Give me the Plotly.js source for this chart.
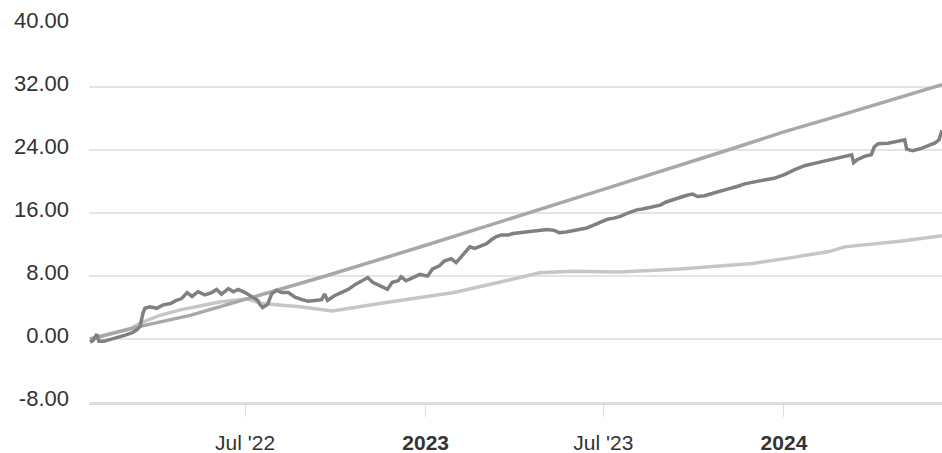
<!DOCTYPE html>
<html>
<head>
<meta charset="utf-8">
<script src="https://cdn.plot.ly/plotly-3.0.1.min.js"></script>
<style>
  html, body { margin: 0; padding: 0; background: #fff; }
  #chart { width: 942px; height: 453px; }
</style>
</head>
<body>
<div id="chart"></div>
<script>
// ---- Data ----
const darkDates = [
  '2022-01-24','2022-01-27','2022-01-31','2022-02-02','2022-02-07','2022-02-14','2022-02-21','2022-03-01','2022-03-08','2022-03-13',
  '2022-03-16','2022-03-19','2022-03-21','2022-03-26','2022-04-02','2022-04-08','2022-04-16','2022-04-22','2022-04-27','2022-05-03',
  '2022-05-08','2022-05-14','2022-05-21','2022-05-28','2022-06-02','2022-06-07','2022-06-14','2022-06-19','2022-06-24','2022-07-01',
  '2022-07-08','2022-07-14','2022-07-16','2022-07-19','2022-07-24','2022-07-28','2022-08-02','2022-08-07','2022-08-14','2022-08-21',
  '2022-08-28','2022-09-03','2022-09-10','2022-09-17','2022-09-20','2022-09-23','2022-09-30','2022-10-07','2022-10-14','2022-10-21',
  '2022-10-28','2022-11-03','2022-11-08','2022-11-13','2022-11-18','2022-11-23','2022-11-28','2022-12-04','2022-12-07','2022-12-12',
  '2022-12-19','2022-12-26','2022-12-30','2023-01-03','2023-01-08','2023-01-15','2023-01-20','2023-01-27','2023-02-01','2023-02-06',
  '2023-02-11','2023-02-15','2023-02-20','2023-02-27','2023-03-04','2023-03-09','2023-03-14','2023-03-19','2023-03-26','2023-03-31',
  '2023-04-07','2023-04-15','2023-04-25','2023-05-05','2023-05-12','2023-05-17','2023-05-24','2023-05-31','2023-06-07','2023-06-14',
  '2023-06-20','2023-06-29','2023-07-05','2023-07-12','2023-07-19','2023-07-26','2023-07-31','2023-08-04','2023-08-10','2023-08-19',
  '2023-08-28','2023-09-03','2023-09-10','2023-09-17','2023-09-24','2023-09-30','2023-10-05','2023-10-12','2023-10-19','2023-10-26',
  '2023-11-01','2023-11-08','2023-11-15','2023-11-22','2023-11-29','2023-12-05','2023-12-12','2023-12-22','2024-01-02','2024-01-12',
  '2024-01-22','2024-02-01','2024-02-11','2024-02-21','2024-03-03','2024-03-10','2024-03-12','2024-03-16','2024-03-23','2024-03-30',
  '2024-04-02','2024-04-06','2024-04-16','2024-04-26','2024-05-03','2024-05-05','2024-05-08','2024-05-11','2024-05-20','2024-05-27',
  '2024-06-03','2024-06-07','2024-06-10'
];
const darkValues = [
  -0.4,-0.2,0.6,-0.3,-0.3,0.0,0.2,0.5,0.8,1.2,
  1.6,3.3,3.9,4.1,3.9,4.3,4.5,4.9,5.1,5.9,
  5.4,6.0,5.6,5.9,6.3,5.7,6.4,6.0,6.3,5.9,
  5.4,4.9,4.4,4.0,4.4,5.7,6.2,5.9,5.9,5.3,
  5.0,4.8,4.9,5.0,5.7,4.9,5.5,5.9,6.3,6.9,
  7.4,7.8,7.2,6.9,6.7,6.3,7.2,7.4,7.9,7.4,
  7.8,8.2,8.1,8.0,8.9,9.3,9.9,10.2,9.7,10.4,
  11.0,11.7,11.5,11.9,12.1,12.6,13.0,13.2,13.2,13.4,
  13.5,13.6,13.8,13.9,13.8,13.5,13.6,13.8,13.9,14.1,
  14.4,14.9,15.2,15.35,15.6,16.0,16.2,16.4,16.5,16.8,
  17.0,17.4,17.7,18.0,18.25,18.4,18.1,18.2,18.4,18.7,
  18.9,19.1,19.4,19.7,19.9,20.0,20.2,20.4,20.9,21.5,
  22.0,22.3,22.6,22.9,23.2,23.4,22.4,22.8,23.2,23.4,
  24.4,24.8,24.85,25.1,25.3,24.1,24.0,23.9,24.2,24.6,
  24.9,25.3,26.5
];

const mediumDates = ['2022-01-24','2022-03-16','2022-05-06','2022-07-01','2022-09-21','2023-01-01','2023-04-14','2023-07-01','2023-11-05','2024-01-01','2024-02-22','2024-06-10'];
const mediumValues = [0.0, 1.6, 3.0, 5.0, 8.0, 11.9, 16.0, 19.0, 24.0, 26.3, 28.2, 32.3];

const lightDates = ['2022-01-24','2022-02-13','2022-03-06','2022-03-16','2022-04-05','2022-04-26','2022-05-16','2022-06-05','2022-07-03','2022-07-18',
  '2022-08-26','2022-09-28','2022-11-15','2023-01-01','2023-01-30','2023-03-17','2023-04-27','2023-05-31','2023-07-17','2023-09-17',
  '2023-11-30','2024-01-07','2024-02-01','2024-02-16','2024-03-03','2024-04-28','2024-06-10'];
const lightValues = [0.0, 0.6, 1.3, 2.0, 3.0, 3.7, 4.2, 4.7, 5.1, 4.5,
  4.1, 3.55, 4.5, 5.4, 5.9, 7.2, 8.4, 8.6, 8.5, 8.9,
  9.6, 10.3, 10.8, 11.1, 11.7, 12.4, 13.1];

const tickDates = ['2022-07-01','2023-01-01','2023-07-01','2024-01-01'];
const tickLabels = ["Jul '22", '<b>2023</b>', "Jul '23", '<b>2024</b>'];
const yTicks = [-8, 0, 8, 16, 24, 32, 40];
const yTickLabels = ['-8.00', '0.00', '8.00', '16.00', '24.00', '32.00', '40.00'];

// ---- Chart ----
const font = 'Liberation Sans, Arial, Helvetica, sans-serif';
const traces = [
  { x: lightDates, y: lightValues, type: 'scatter', mode: 'lines', line: { color: '#c6c6c6', width: 3.5 }, hoverinfo: 'skip' },
  { x: mediumDates, y: mediumValues, type: 'scatter', mode: 'lines', line: { color: '#a8a8a8', width: 3.5 }, hoverinfo: 'skip' },
  { x: darkDates, y: darkValues, type: 'scatter', mode: 'lines', line: { color: '#808080', width: 3.5 }, hoverinfo: 'skip' }
];

const layout = {
  width: 942, height: 453,
  margin: { l: 89, r: 0, t: 24, b: 51 },
  paper_bgcolor: '#ffffff', plot_bgcolor: '#ffffff',
  showlegend: false,
  font: { family: font, size: 22, color: '#333333' },
  xaxis: {
    type: 'date',
    range: ['2022-01-23', '2024-06-10'],
    tickvals: tickDates, ticktext: tickLabels,
    showgrid: false, zeroline: false,
    showline: true, linecolor: '#dddddd', linewidth: 3,
    ticks: 'outside', ticklen: 12, tickwidth: 1, tickcolor: '#dddddd',
    ticklabelstandoff: 8,
    tickfont: { family: font, size: 21, color: '#333333' }
  },
  yaxis: {
    range: [-8, 40],
    tickvals: yTicks, ticktext: yTickLabels,
    showgrid: true, gridcolor: '#e4e4e4', gridwidth: 2,
    zeroline: false, showline: false,
    ticks: '', ticklabelstandoff: 19, ticklabelshift: -4,
    tickfont: { family: font, size: 22, color: '#333333' }
  }
};

Plotly.newPlot('chart', traces, layout, { staticPlot: true, displayModeBar: false });
</script>
</body>
</html>
